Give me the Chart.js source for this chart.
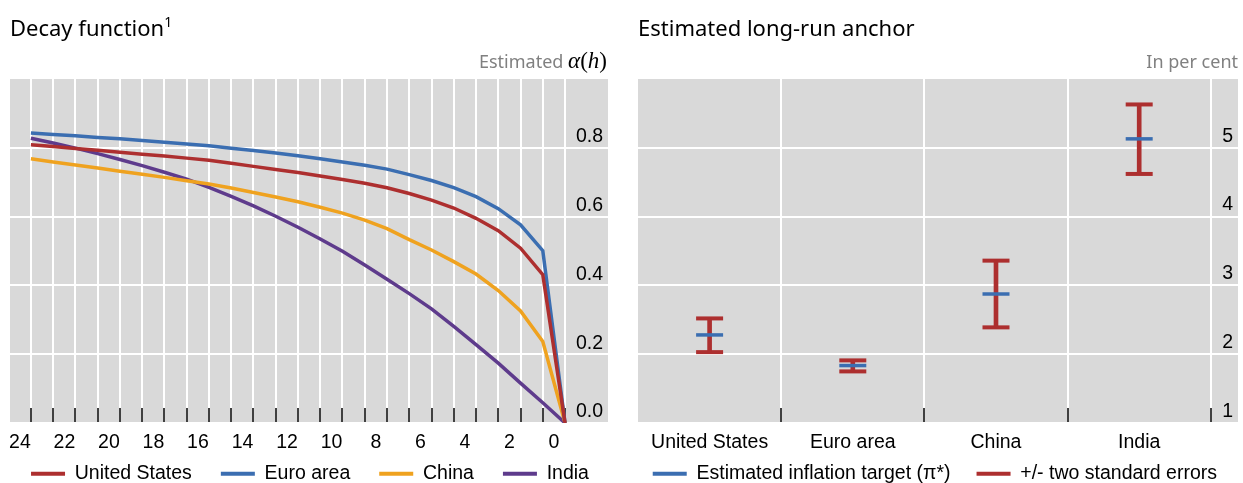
<!DOCTYPE html>
<html>
<head>
<meta charset="utf-8">
<script src="https://cdn.jsdelivr.net/npm/chart.js@4.4.0/dist/chart.umd.min.js"></script>
<style>
  body { margin: 0; width: 1243px; height: 483px; background: #fff; position: relative; overflow: hidden; }
  .panel { position: absolute; top: 0; height: 483px; }
  canvas { position: absolute; left: 0; top: 0; }
  .title { position: absolute; top: 14px; font-family: "Noto Sans", sans-serif; font-size: 22px; line-height: 26px; color: #000; white-space: nowrap; }
  .title sup { font-size: 14px; vertical-align: 9px; line-height: 0; }
  .unit { position: absolute; top: 49px; font-family: "Noto Sans", sans-serif; font-size: 18px; line-height: 24px; color: #808080; white-space: nowrap; }
  .alpha { font-family: "Liberation Serif", serif; font-size: 23px; color: #000; }
</style>
</head>
<body>
<div class="panel" style="left:0;width:620px">
  <canvas id="decayChart" width="620" height="483"></canvas>
  <div class="title" style="left:10px">Decay function<sup>1</sup></div>
  <div class="unit" style="right:13px">Estimated <span class="alpha"><i>α</i>(<i>h</i>)</span></div>
</div>
<div class="panel" style="left:620px;width:623px">
  <canvas id="anchorChart" width="623" height="483"></canvas>
  <div class="title" style="left:18px">Estimated long-run anchor</div>
  <div class="unit" style="right:5px">In per cent</div>
</div>
<script>
// left panel: decay function alpha(h), horizon 24 -> 0
const horizons = [24,23,22,21,20,19,18,17,16,15,14,13,12,11,10,9,8,7,6,5,4,3,2,1,0];
const usDecay    = [0.809,0.804,0.798,0.793,0.787,0.781,0.776,0.770,0.764,0.755,0.746,0.737,0.728,0.718,0.708,0.697,0.684,0.667,0.648,0.625,0.595,0.559,0.508,0.431,0];
const euroDecay  = [0.843,0.839,0.835,0.830,0.826,0.821,0.816,0.811,0.806,0.799,0.792,0.785,0.777,0.768,0.759,0.749,0.738,0.722,0.705,0.684,0.658,0.623,0.576,0.501,0];
const chinaDecay = [0.768,0.759,0.750,0.741,0.732,0.723,0.714,0.704,0.695,0.683,0.670,0.657,0.643,0.627,0.610,0.590,0.565,0.533,0.503,0.469,0.433,0.385,0.326,0.237,0];
const indiaDecay = [0.828,0.814,0.799,0.783,0.766,0.748,0.729,0.709,0.685,0.659,0.631,0.601,0.569,0.535,0.499,0.459,0.418,0.376,0.332,0.281,0.228,0.174,0.116,0.059,0];
const alphaTicks = [0, 0.2, 0.4, 0.6, 0.8];

// right panel: estimated inflation target and +/- two standard errors
const countries  = ['United States', 'Euro area', 'China', 'India'];
const piStar     = [2.28, 1.835, 2.875, 5.13];
const lowerBand  = [2.03, 1.75, 2.39, 4.62];
const upperBand  = [2.52, 1.91, 3.36, 5.63];
const anchorTicks = [1, 2, 3, 4, 5];

const RED = '#ad2f2f', BLUE = '#3b6eb1', ORANGE = '#efa21f', PURPLE = '#5e3b8c';
const axisFont = { family: '"Liberation Sans", Arial, sans-serif', size: 19.5 };

const plotBackground = {
  id: 'plotBackground',
  beforeDraw(chart) {
    const { ctx, chartArea: a } = chart;
    ctx.save();
    ctx.fillStyle = '#d9d9d9';
    ctx.fillRect(a.left, a.top, a.right - a.left, a.bottom - a.top);
    ctx.restore();
  }
};

function legendNoBorder(chart) {
  return Chart.defaults.plugins.legend.labels.generateLabels(chart).map(l => Object.assign(l, { lineWidth: 0 }));
}

// labels sit inside the plot, so drop the edge padding chart.js adds for them
function noEdgePadding(s) {
  s.paddingLeft = 0; s.paddingRight = 0; s.paddingTop = 0; s.paddingBottom = 0;
}

// empty axis used only to leave a margin left of the plot
function spacer(width) {
  return {
    position: 'left', display: true,
    grid: { display: false }, border: { display: false }, ticks: { display: false },
    afterFit: s => { s.width = width; noEdgePadding(s); }
  };
}

function lineSet(label, values, color) {
  return {
    label: label,
    data: horizons.map((h, i) => ({ x: h, y: values[i] })),
    yAxisID: 'y',
    borderColor: color,
    backgroundColor: color,
    borderWidth: 3.5,
    pointRadius: 0,
    tension: 0
  };
}

new Chart(document.getElementById('decayChart'), {
  type: 'line',
  data: {
    datasets: [
      lineSet('United States', usDecay, RED),
      lineSet('Euro area', euroDecay, BLUE),
      lineSet('China', chinaDecay, ORANGE),
      lineSet('India', indiaDecay, PURPLE)
    ]
  },
  options: {
    responsive: false,
    animation: false,
    layout: { autoPadding: false, padding: { left: 0, right: 0, top: 79, bottom: 0 } },
    scales: {
      x: {
        type: 'linear', reverse: true, min: -1.93, max: 24.94,
        afterBuildTicks: s => { s.ticks = horizons.map(h => ({ value: h })); },
        afterFit: s => { s.height = 12; noEdgePadding(s); },
        grid: { color: '#fff', lineWidth: 2, drawTicks: true, tickLength: -15, tickColor: '#000', tickWidth: 1.5 },
        border: { display: false },
        ticks: {
          autoSkip: false, maxRotation: 0, mirror: true, labelOffset: -11, padding: -31,
          color: '#000', font: axisFont,
          callback: v => (v % 2 === 0 ? String(v) : '')
        }
      },
      yl: spacer(10),
      y: {
        position: 'right', min: 0, max: 1.0,
        afterBuildTicks: s => { s.ticks = alphaTicks.map(v => ({ value: v })); },
        afterFit: s => { s.width = 12; noEdgePadding(s); },
        grid: { color: '#fff', lineWidth: 2, drawTicks: false },
        border: { display: false },
        ticks: { mirror: true, padding: -5, labelOffset: -11, color: '#000', font: axisFont, callback: v => v.toFixed(1) }
      }
    },
    plugins: {
      legend: {
        position: 'bottom',
        maxHeight: 48,
        labels: { boxWidth: 34, boxHeight: 4, padding: 29, color: '#000', font: axisFont, generateLabels: legendNoBorder }
      },
      tooltip: { enabled: false }
    }
  },
  plugins: [plotBackground]
});

const caps = [];
countries.forEach((c, i) => {
  caps.push({ x: i, y: lowerBand[i] });
  caps.push({ x: i, y: upperBand[i] });
});

new Chart(document.getElementById('anchorChart'), {
  type: 'scatter',
  data: {
    datasets: [
      {
        type: 'scatter',
        label: 'Estimated inflation target (\u03c0*)',
        data: countries.map((c, i) => ({ x: i, y: piStar[i] })),
        yAxisID: 'y',
        pointStyle: 'line', pointRadius: 13.5, pointHoverRadius: 13.5,
        borderColor: BLUE, backgroundColor: BLUE, borderWidth: 3.5
      },
      {
        type: 'bar',
        label: '+/- two standard errors',
        data: countries.map((c, i) => ({ x: i, y: [lowerBand[i], upperBand[i]] })),
        yAxisID: 'y',
        backgroundColor: RED, borderColor: RED, borderWidth: 0, barThickness: 4
      },
      {
        type: 'scatter',
        label: 'caps',
        data: caps,
        yAxisID: 'y',
        pointStyle: 'line', pointRadius: 13.5, pointHoverRadius: 13.5,
        borderColor: RED, backgroundColor: RED, borderWidth: 4
      }
    ]
  },
  options: {
    responsive: false,
    animation: false,
    layout: { autoPadding: false, padding: { left: 0, right: 0, top: 79, bottom: 0 } },
    scales: {
      x: {
        type: 'linear', min: -0.5, max: 3.69, offset: false,
        afterBuildTicks: s => { s.ticks = countries.map((c, i) => ({ value: i + 0.5 })); },
        afterFit: s => { s.height = 15; noEdgePadding(s); },
        grid: { offset: false, color: '#fff', lineWidth: 2, drawTicks: true, tickLength: -15, tickColor: '#000', tickWidth: 1.5 },
        border: { display: false },
        ticks: {
          autoSkip: false, maxRotation: 0, mirror: true, labelOffset: -71.6, padding: -31,
          color: '#000', font: axisFont,
          callback: v => countries[Math.round(v - 0.5)]
        }
      },
      yl: spacer(18),
      y: {
        position: 'right', min: 1, max: 6,
        afterBuildTicks: s => { s.ticks = anchorTicks.map(v => ({ value: v })); },
        afterFit: s => { s.width = 5; noEdgePadding(s); },
        grid: { color: '#fff', lineWidth: 2, drawTicks: false },
        border: { display: false },
        ticks: { mirror: true, padding: -5, labelOffset: -11.5, color: '#000', font: axisFont }
      }
    },
    plugins: {
      legend: {
        position: 'bottom',
        align: 'end',
        maxHeight: 45,
        labels: {
          boxWidth: 34, boxHeight: 4, padding: 26, color: '#000', font: axisFont,
          generateLabels: legendNoBorder,
          filter: item => item.datasetIndex < 2
        }
      },
      tooltip: { enabled: false }
    }
  },
  plugins: [plotBackground]
});
</script>
</body>
</html>
